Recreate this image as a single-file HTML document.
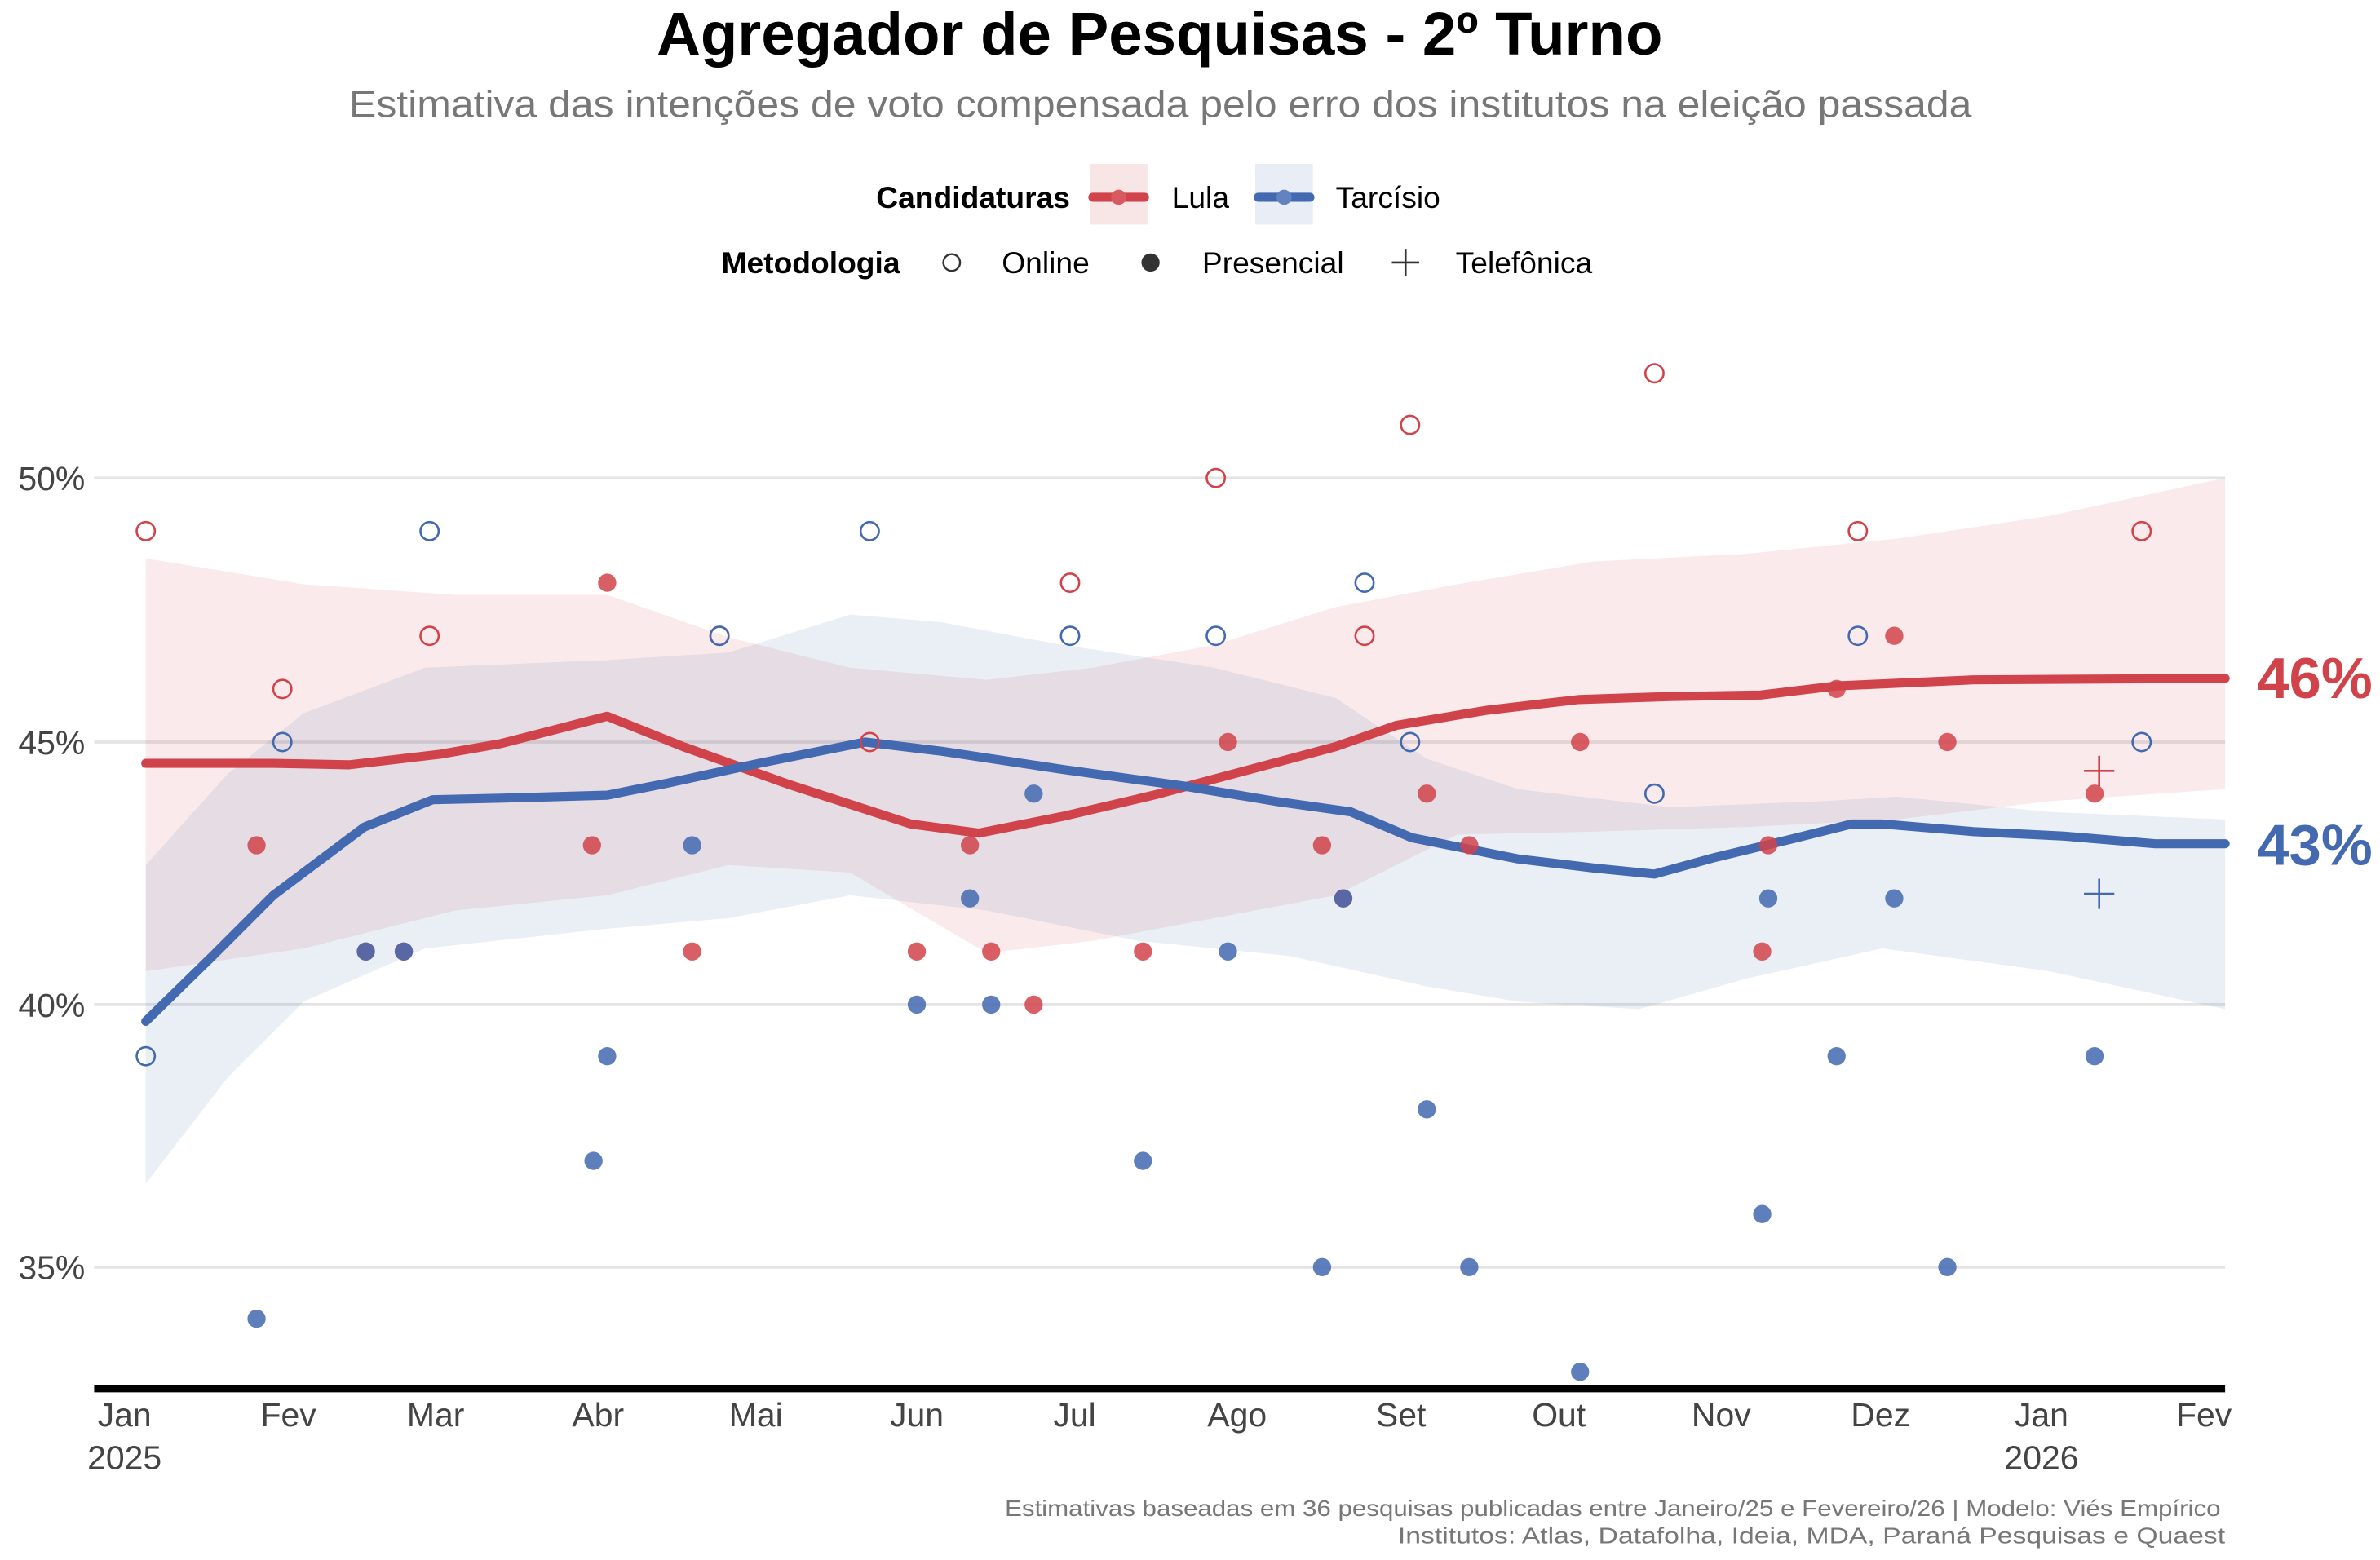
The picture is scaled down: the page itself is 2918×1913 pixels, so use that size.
<!DOCTYPE html>
<html><head><meta charset="utf-8"><style>
html,body{margin:0;padding:0;background:#fff}
svg{display:block}
text{font-family:"Liberation Sans Narrow","Liberation Sans",sans-serif;font-stretch:condensed}
</style></head><body>
<svg width="2918" height="1913" viewBox="0 0 1568 1028" xmlns="http://www.w3.org/2000/svg">
<rect width="1568" height="1028" fill="#fff"/>
<text x="764" y="36" text-anchor="middle" font-size="40" font-weight="bold" fill="#000">Agregador de Pesquisas - 2º Turno</text>
<text x="230" y="77" font-size="25" fill="#777" textLength="1069" lengthAdjust="spacingAndGlyphs">Estimativa das intenções de voto compensada pelo erro dos institutos na eleição passada</text>
<text x="705" y="137" text-anchor="end" font-size="20" font-weight="bold">Candidaturas</text>
<rect x="718" y="108" width="38" height="40" fill="#f8e6e7"/>
<line x1="720" y1="130" x2="754" y2="130" stroke="#d1434a" stroke-width="6" stroke-linecap="round"/>
<circle cx="737" cy="130" r="5" fill="#d85a60"/>
<text x="772" y="137" font-size="20">Lula</text>
<rect x="827" y="108" width="38" height="40" fill="#e9eef6"/>
<line x1="829" y1="130" x2="863" y2="130" stroke="#4369b0" stroke-width="6" stroke-linecap="round"/>
<circle cx="846" cy="130" r="5" fill="#6283c0"/>
<text x="880" y="137" font-size="20">Tarcísio</text>
<text x="593" y="180" text-anchor="end" font-size="20" font-weight="bold">Metodologia</text>
<circle cx="627" cy="173" r="5.5" fill="none" stroke="#333" stroke-width="1.3"/>
<text x="660" y="180" font-size="20">Online</text>
<circle cx="758" cy="173" r="6" fill="#333"/>
<text x="792" y="180" font-size="20">Presencial</text>
<path d="M917 173h18M926 164v18" stroke="#333" stroke-width="1.4"/>
<text x="959" y="180" font-size="20">Telefônica</text>
<g stroke="#e4e4e4" stroke-width="2">
<line x1="62" y1="315" x2="1466" y2="315"/><line x1="62" y1="489" x2="1466" y2="489"/>
<line x1="62" y1="662" x2="1466" y2="662"/><line x1="62" y1="835" x2="1466" y2="835"/>
</g>
<g font-size="22" fill="#444" text-anchor="end">
<text x="56" y="323">50%</text><text x="56" y="497">45%</text><text x="56" y="670">40%</text><text x="56" y="843">35%</text>
</g>
<path fill="#d1434a" fill-opacity="0.11" d="M96 368L200 385L300 392L400 392L480 420L560 440L650 448L720 440L800 425L880 400L960 385L1050 370L1150 365L1250 355L1350 340L1466 315L1466 520L1350 528L1250 540L1150 545L1050 548L960 550L880 590L800 605L720 620L650 628L560 575L480 570L400 590L300 600L200 625L96 640Z"/>
<path fill="#4369b0" fill-opacity="0.11" d="M96 570L150 510L200 470L280 440L400 435L480 430L560 405L620 410L700 425L800 440L880 460L940 500L1000 520L1100 532L1200 528L1250 525L1350 535L1466 540L1466 665L1350 640L1240 625L1150 645L1080 665L1000 660L940 650L850 630L750 620L650 600L560 590L480 605L400 612L280 625L200 660L150 710L96 780Z"/>
<polyline fill="none" stroke="#d1434a" stroke-width="6" stroke-linejoin="round" stroke-linecap="round" points="96,503 180,503 230,504 290,497 330,490 400,472 450,492 520,517 600,543 645,549 700,538 760,524 820,508 880,492 920,478 980,468 1040,461 1100,459 1160,458 1210,452 1300,448 1466,447"/>
<polyline fill="none" stroke="#4369b0" stroke-width="6" stroke-linejoin="round" stroke-linecap="round" points="96,673 140,630 180,590 240,545 285,527 330,526 400,524 440,516 500,503 570,489 620,495 700,507 780,518 840,528 890,535 930,552 1000,566 1050,572 1090,576 1130,565 1180,553 1220,543 1240,543 1300,548 1360,551 1420,556 1466,556"/>
<g fill="#d1434a" fill-opacity="0.85">
<circle cx="169" cy="557" r="6"/><circle cx="400" cy="384" r="6"/><circle cx="390" cy="557" r="6"/><circle cx="456" cy="627" r="6"/>
<circle cx="241" cy="627" r="6"/><circle cx="266" cy="627" r="6"/>
<circle cx="604" cy="627" r="6"/><circle cx="639" cy="557" r="6"/><circle cx="653" cy="627" r="6"/><circle cx="681" cy="662" r="6"/>
<circle cx="753" cy="627" r="6"/><circle cx="809" cy="489" r="6"/><circle cx="871" cy="557" r="6"/><circle cx="885" cy="592" r="6"/>
<circle cx="940" cy="523" r="6"/><circle cx="968" cy="557" r="6"/><circle cx="1041" cy="489" r="6"/><circle cx="1161" cy="627" r="6"/>
<circle cx="1165" cy="557" r="6"/><circle cx="1210" cy="454" r="6"/><circle cx="1248" cy="419" r="6"/><circle cx="1283" cy="489" r="6"/><circle cx="1380" cy="523" r="6"/>
</g>
<g fill="none" stroke="#d1434a" stroke-width="1.4">
<circle cx="96" cy="350" r="6"/><circle cx="186" cy="454" r="6"/><circle cx="283" cy="419" r="6"/><circle cx="474" cy="419" r="6"/>
<circle cx="573" cy="489" r="6"/><circle cx="705" cy="384" r="6"/><circle cx="801" cy="315" r="6"/><circle cx="899" cy="419" r="6"/>
<circle cx="929" cy="280" r="6"/><circle cx="1090" cy="246" r="6"/><circle cx="1224" cy="350" r="6"/><circle cx="1411" cy="350" r="6"/>
<path d="M1373 508h20M1383 498v20"/>
</g>
<g fill="#4369b0" fill-opacity="0.85">
<circle cx="169" cy="869" r="6"/><circle cx="241" cy="627" r="6"/><circle cx="266" cy="627" r="6"/><circle cx="391" cy="765" r="6"/>
<circle cx="400" cy="696" r="6"/><circle cx="456" cy="557" r="6"/><circle cx="604" cy="662" r="6"/><circle cx="639" cy="592" r="6"/>
<circle cx="653" cy="662" r="6"/><circle cx="681" cy="523" r="6"/><circle cx="753" cy="765" r="6"/><circle cx="809" cy="627" r="6"/>
<circle cx="871" cy="835" r="6"/><circle cx="885" cy="592" r="6"/><circle cx="940" cy="731" r="6"/><circle cx="968" cy="835" r="6"/>
<circle cx="1041" cy="904" r="6"/><circle cx="1161" cy="800" r="6"/><circle cx="1165" cy="592" r="6"/><circle cx="1210" cy="696" r="6"/>
<circle cx="1248" cy="592" r="6"/><circle cx="1283" cy="835" r="6"/><circle cx="1380" cy="696" r="6"/>
</g>
<g fill="none" stroke="#4369b0" stroke-width="1.4">
<circle cx="96" cy="696" r="6"/><circle cx="186" cy="489" r="6"/><circle cx="283" cy="350" r="6"/><circle cx="474" cy="419" r="6"/>
<circle cx="573" cy="350" r="6"/><circle cx="705" cy="419" r="6"/><circle cx="801" cy="419" r="6"/><circle cx="899" cy="384" r="6"/>
<circle cx="929" cy="489" r="6"/><circle cx="1090" cy="523" r="6"/><circle cx="1224" cy="419" r="6"/><circle cx="1411" cy="489" r="6"/>
<path d="M1373 589h20M1383 579v20"/>
</g>
<text x="1487" y="460" font-size="38" font-weight="bold" fill="#d1434a">46%</text>
<text x="1487" y="570" font-size="38" font-weight="bold" fill="#4369b0">43%</text>
<line x1="62" y1="915" x2="1466" y2="915" stroke="#000" stroke-width="5"/>
<g font-size="22" fill="#444" text-anchor="middle">
<text x="82" y="940">Jan</text><text x="190" y="940">Fev</text><text x="287" y="940">Mar</text><text x="394" y="940">Abr</text>
<text x="498" y="940">Mai</text><text x="604" y="940">Jun</text><text x="708" y="940">Jul</text><text x="815" y="940">Ago</text>
<text x="923" y="940">Set</text><text x="1027" y="940">Out</text><text x="1134" y="940">Nov</text><text x="1239" y="940">Dez</text>
<text x="1345" y="940">Jan</text><text x="1452" y="940">Fev</text>
<text x="82" y="968">2025</text><text x="1345" y="968">2026</text>
</g>
<g font-size="15" fill="#777">
<text x="662" y="999" textLength="801" lengthAdjust="spacingAndGlyphs">Estimativas baseadas em 36 pesquisas publicadas entre Janeiro/25 e Fevereiro/26 | Modelo: Viés Empírico</text>
<text x="921" y="1017" textLength="545" lengthAdjust="spacingAndGlyphs">Institutos: Atlas, Datafolha, Ideia, MDA, Paraná Pesquisas e Quaest</text>
</g>
</svg>
</body></html>
